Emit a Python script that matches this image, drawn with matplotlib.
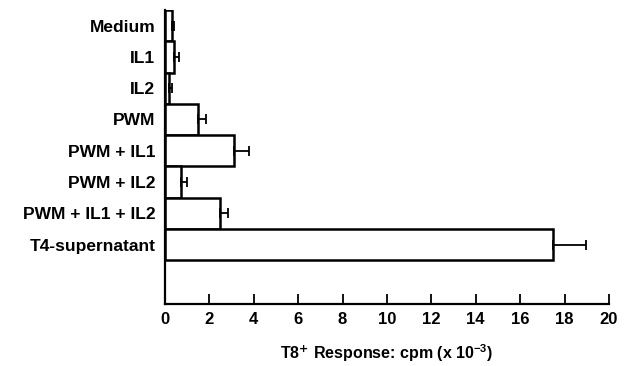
import matplotlib.pyplot as plt

plt.rcParams['font.family'] = ['Liberation Sans', 'DejaVu Sans']
plt.rcParams['mathtext.fontset'] = 'custom'
plt.rcParams['mathtext.rm'] = 'Liberation Sans:bold'
plt.rcParams['mathtext.default'] = 'rm'

labels = ['Medium', 'IL1', 'IL2', 'PWM', 'PWM + IL1', 'PWM + IL2',
          'PWM + IL1 + IL2', 'T4-supernatant']
values = [0.3, 0.4, 0.2, 1.5, 3.1, 0.7, 2.5, 17.5]
errors = [0.1, 0.25, 0.1, 0.35, 0.7, 0.27, 0.32, 1.45]
xticks = [0, 2, 4, 6, 8, 10, 12, 14, 16, 18, 20]

fig = plt.figure(figsize=(6.31, 3.66), dpi=100)
ax = fig.add_axes([0.2615, 0.1694, 0.7035, 0.8033])

pos = list(range(len(labels)))
ax.barh(pos, values, height=1.0, color='white', edgecolor='black', linewidth=1.8,
        xerr=[[0] * len(errors), errors],
        error_kw=dict(ecolor='black', elinewidth=1.3, capsize=3.5, capthick=1.3))

ax.set_ylim(8.9, -0.5)
ax.set_xlim(0, 20)
ax.set_yticks(pos)
ax.set_yticklabels(labels, fontsize=12.5, fontweight='bold')
ax.tick_params(axis='y', length=0, pad=7)
ax.set_xticks(xticks)
ax.set_xticklabels([str(t) for t in xticks], fontsize=12, fontweight='bold')
ax.tick_params(axis='x', direction='in', length=7, width=1.3, pad=6)

for s in ['top', 'right']:
    ax.spines[s].set_visible(False)
for s in ['left', 'bottom']:
    ax.spines[s].set_linewidth(1.6)

ax.set_xlabel('T8$^{\\mathbf{+}}$ Response: cpm (x 10$^{-3}$)', fontsize=11.5,
              fontweight='bold', labelpad=11)

fig.savefig('out.png', dpi=100)
